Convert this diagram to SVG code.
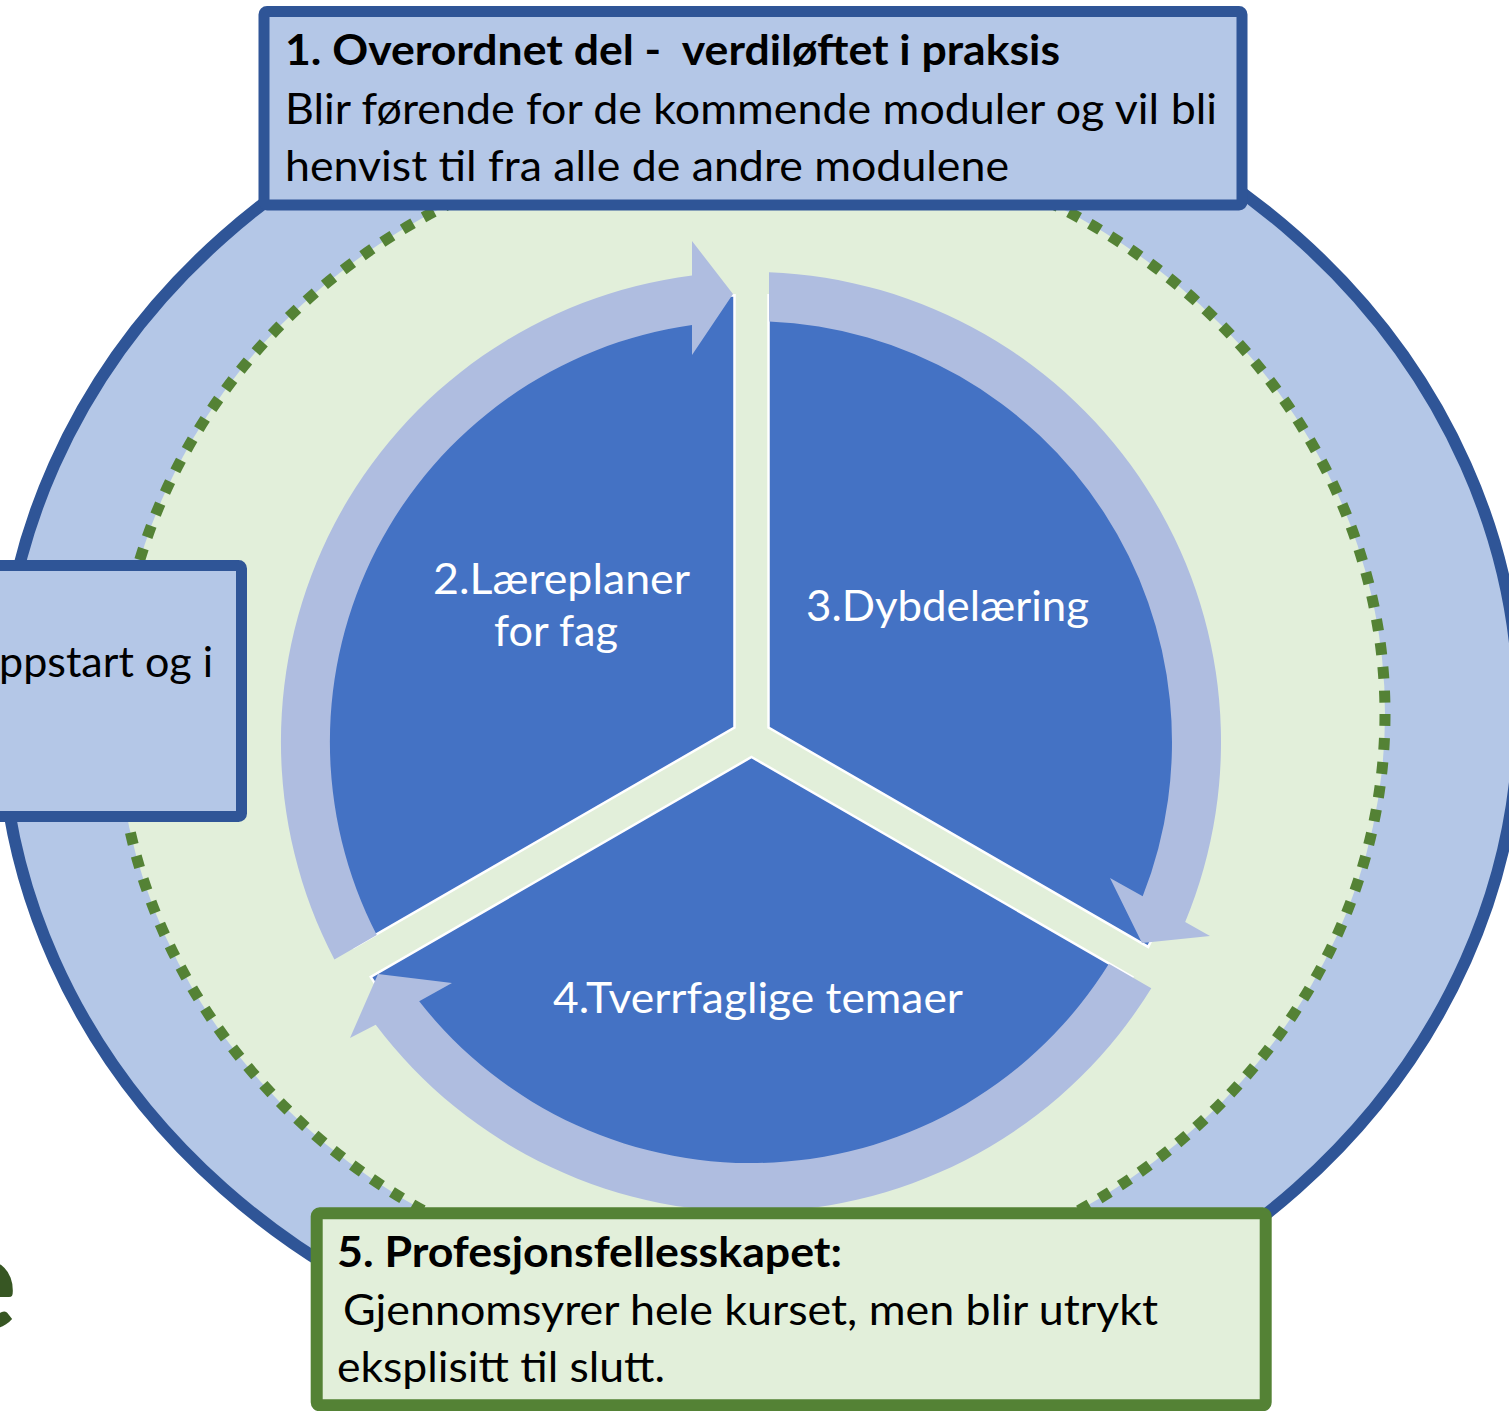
<svg xmlns="http://www.w3.org/2000/svg" width="1509" height="1411" viewBox="0 0 1509 1411">
<style>
.t{font-family:Lato,"Liberation Sans",sans-serif;font-size:42px;fill:#000}
.b{font-weight:700}
.w{fill:#fff}
.sector{fill:#4472C4;stroke:#fff;stroke-width:2.5;stroke-linejoin:miter}
.arrow{fill:#AFBDE0}
.box1{fill:#B4C7E7;stroke:#2F5597;stroke-width:11}
.box5{fill:#E2EFDA;stroke:#548235;stroke-width:12}
</style>
<rect width="1509" height="1411" fill="#fff"/>
<g id="outer-ring">
<ellipse cx="760" cy="712.6" rx="759" ry="673" fill="#B4C7E7" stroke="#2F5597" stroke-width="12"/>
</g>
<g id="profession-ring">
<ellipse cx="751" cy="714" rx="634" ry="580" fill="#E2EFDA"/>
<ellipse cx="751" cy="714" rx="634" ry="580" fill="none" stroke="#548235" stroke-width="11" stroke-dasharray="12 12"/>
</g>
<g id="node-2">
<path class="sector" d="M734.5 727.6 L734.5 295.3 A447 447 0 0 0 354 947.3 Z"/>
<text class="t w" x="561.5" y="594" text-anchor="middle" textLength="257" lengthAdjust="spacingAndGlyphs">2.Læreplaner</text>
<text class="t w" x="556" y="646" text-anchor="middle" textLength="124" lengthAdjust="spacingAndGlyphs">for fag</text>
</g>
<g id="node-3">
<path class="sector" d="M768.5 727.6 L768.5 295.3 A447 447 0 0 1 1148.2 946.9 Z"/>
<text class="t w" x="806" y="621" textLength="283" lengthAdjust="spacingAndGlyphs">3.Dybdelæring</text>
</g>
<g id="node-4">
<path class="sector" d="M751.5 757 L1132.3 976.9 A447 447 0 0 1 370.7 976.9 Z"/>
<text class="t w" x="553" y="1013" textLength="410" lengthAdjust="spacingAndGlyphs">4.Tverrfaglige temaer</text>
</g>
<g id="connectors">
<path class="arrow" d="M334.4 959.5 A470 470 0 0 1 692 275.5 L692 241 L733 294 L692 355 L692 325 A421 421 0 0 0 376.8 935 Z"/>
<path class="arrow" d="M769 272.3 A470 470 0 0 1 1185.2 921.9 L1210 936 L1142 943 L1110 878 L1142.7 896.3 A421 421 0 0 0 769 321.4 Z"/>
<path class="arrow" d="M1151.3 988.2 A470 470 0 0 1 375.7 1024.8 L350 1038 L378 974 L452 983 L419.2 1001.2 A421 421 0 0 0 1108.9 963.7 Z"/>
</g>
<g id="node-1">
<rect class="box1" x="264" y="11.5" width="978" height="193.5" rx="3"/>
<text class="t b" x="285" y="65" textLength="775" lengthAdjust="spacingAndGlyphs" xml:space="preserve">1. Overordnet del -  verdiløftet i praksis</text>
<text class="t" x="285" y="124" textLength="932" lengthAdjust="spacingAndGlyphs">Blir førende for de kommende moduler og vil bli</text>
<text class="t" x="285" y="181" textLength="724" lengthAdjust="spacingAndGlyphs">henvist til fra alle de andre modulene</text>
</g>
<g id="node-left">
<rect class="box1" x="-20" y="565.5" width="261.5" height="251" rx="3"/>
<text class="t" x="-1" y="677" textLength="214" lengthAdjust="spacingAndGlyphs">ppstart og i</text>
</g>
<g id="node-5">
<rect class="box5" x="316.7" y="1213.3" width="949" height="192" rx="3"/>
<text class="t b" x="337" y="1267" textLength="505" lengthAdjust="spacingAndGlyphs">5. Profesjonsfellesskapet:</text>
<text class="t" x="343" y="1325" textLength="815" lengthAdjust="spacingAndGlyphs">Gjennomsyrer hele kurset, men blir utrykt</text>
<text class="t" x="337" y="1382" textLength="328" lengthAdjust="spacingAndGlyphs">eksplisitt til slutt.</text>
</g>
<g id="title-fragment">
<text x="17" y="1329" text-anchor="end" style="font-family:Lato,'Liberation Sans',sans-serif;font-size:132px;font-weight:700;fill:#375623">e</text>
</g>
</svg>
